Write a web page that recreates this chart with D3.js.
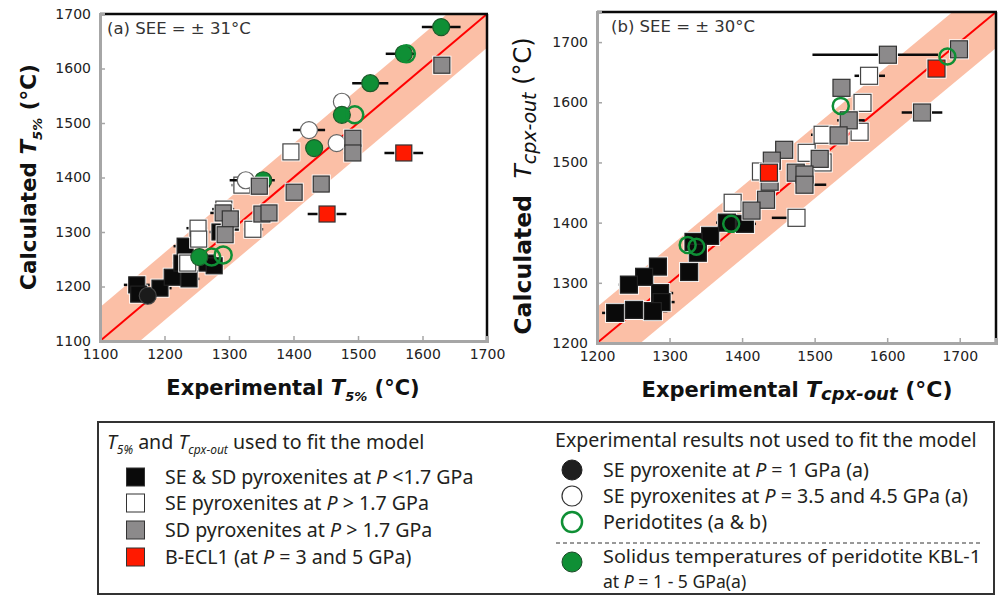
<!DOCTYPE html>
<html>
<head>
<meta charset="utf-8">
<script src="https://cdn.jsdelivr.net/npm/d3@7"></script>
<style>
  body { margin: 0; background: #fff; }
  svg { display: block; }
</style>
</head>
<body>
<svg id="chart" width="999" height="596"></svg>
<script>
// ---- Data: [experimental, calculated, errLow, errHigh] in °C ----
const ticksA = [1100, 1200, 1300, 1400, 1500, 1600, 1700];
const ticksB = [1200, 1300, 1400, 1500, 1600, 1700];
const seeA = 31, seeB = 30;

// Panel (a): T5%
const aBlack = [[1157,1203,20,20],[1160,1186,14,14],[1193,1197,18,18],[1212,1217,14,14],[1238,1214,16,16],
  [1232,1274,18,14],[1227,1243,14,14],[1266,1243,14,16],[1277,1238,14,14],[1286,1300,16,14],[1302,1318,14,14]];
const aWhite = [[1252,1307,18,14],[1253,1287,14,14],[1236,1243,14,14],[1292,1342,18,16],[1337,1305,14,16],
  [1320,1386,16,14],[1396,1447,0,0]];
const aGray = [[1630,1606,0,0],[1492,1472,14,14],[1492,1445,14,14],[1347,1384,14,16],[1401,1373,0,0],[1443,1388,0,0],
  [1291,1335,20,14],[1302,1324,14,14],[1351,1333,14,14],[1362,1335,14,14],[1294,1295,14,14]];
const aRed = [[1571,1445,30,30],[1452,1333,30,30]];
const aWhiteCircle = [[1326,1395,25,0],[1424,1487,25,25],[1467,1463,0,0],[1475,1539,0,0]];
const aBlackCircle = [[1174,1183,0,0]];
const aGreenOpen = [[1575,1627,0,0],[1495,1515,0,0],[1273,1254,0,0],[1291,1258,0,0]];
const aGreenFilled = [[1629,1676,30,30],[1571,1627,28,18],[1519,1573,28,28],[1475,1515,0,0],[1432,1454,0,0],
  [1353,1395,0,18],[1254,1254,0,0]];

// Panel (b): Tcpx-out
const bBlack = [[1404,1398,0,15],[1379,1400,15,0],[1356,1378,0,0],[1333,1368,0,0],[1339,1350,0,10],[1327,1318,0,12],
  [1284,1327,0,0],[1265,1310,0,0],[1244,1297,14,0],[1287,1283,0,18],[1289,1268,0,18],[1225,1250,18,0],
  [1251,1255,0,0],[1277,1253,0,20]];
const bWhite = [[1575,1644,20,22],[1566,1599,0,0],[1562,1551,0,0],[1511,1546,16,0],[1489,1516,0,0],[1511,1500,0,0],
  [1426,1485,0,0],[1387,1433,0,0],[1475,1408,34,0]];
const bGray = [[1601,1679,104,69],[1699,1688,0,0],[1537,1624,0,0],[1648,1583,28,28],[1547,1570,16,22],[1533,1545,0,0],
  [1458,1521,0,0],[1507,1506,0,0],[1441,1503,0,0],[1474,1483,0,0],[1486,1480,0,0],[1438,1468,0,0],
  [1486,1463,0,30],[1433,1438,0,0],[1413,1420,0,0]];
const bRed = [[1668,1656,0,0],[1437,1483,0,0]];
const bGreenOpen = [[1683,1676,0,0],[1536,1594,0,0],[1385,1398,0,0],[1325,1363,0,0],[1337,1360,0,0]];

// ---- Styling ----
const C = {
  band: "#fbbfa6", line: "#ff0000", axisGray: "#a6a6a6", black: "#0a0a0a", gray: "#8c8a8b",
  red: "#ff1a00", green: "#0f8f35", ink: "#231f20"
};
const axisFont = "'DejaVu Sans', sans-serif";
const legendFont = "'Noto Sans', 'Open Sans', sans-serif";

const svg = d3.select("#chart");

// Helper: text made of styled runs (italic / bold / subscript)
function richText(parent, x, y, runs, attrs) {
  const t = parent.append("text").attr("x", x).attr("y", y);
  Object.entries(attrs || {}).forEach(([k, v]) => t.attr(k, v));
  let shifted = 0;
  runs.forEach(r => {
    const s = t.append("tspan").text(r.t);
    const want = r.sub ? r.sub : 0;
    if (want !== shifted) { s.attr("dy", want - shifted); shifted = want; }
    if (r.i) s.attr("font-style", "italic");
    if (r.b !== undefined) s.attr("font-weight", r.b ? "bold" : "normal");
    if (r.size) s.attr("font-size", r.size);
  });
  return t;
}

function panel(cfg) {
  const x = d3.scaleLinear().domain(cfg.domain).range([cfg.left, cfg.right]);
  const y = d3.scaleLinear().domain(cfg.domain).range([cfg.bottom, cfg.top]);
  const g = svg.append("g");
  const clipId = "clip-" + cfg.id;
  g.append("clipPath").attr("id", clipId).append("rect")
    .attr("x", cfg.left).attr("y", cfg.top)
    .attr("width", cfg.right - cfg.left).attr("height", cfg.bottom - cfg.top);

  const plot = g.append("g").attr("clip-path", `url(#${clipId})`);
  const [d0, d1] = [cfg.domain[0] - 100, cfg.domain[1] + 100];
  const e = 2 * cfg.see;
  // ±2·SEE envelope around the 1:1 line
  plot.append("path")
    .attr("d", d3.line()([[x(d0), y(d0 + e)], [x(d1), y(d1 + e)], [x(d1), y(d1 - e)], [x(d0), y(d0 - e)]]) + "Z")
    .attr("fill", C.band);
  plot.append("line")
    .attr("x1", x(d0)).attr("y1", y(d0)).attr("x2", x(d1)).attr("y2", y(d1))
    .attr("stroke", C.line).attr("stroke-width", 2);

  // frame: black top/right, gray left/bottom
  g.append("line").attr("x1", cfg.left).attr("x2", cfg.right + 1).attr("y1", cfg.top).attr("y2", cfg.top)
    .attr("stroke", C.black).attr("stroke-width", 2.5);
  g.append("line").attr("x1", cfg.right).attr("x2", cfg.right).attr("y1", cfg.top).attr("y2", cfg.bottom)
    .attr("stroke", C.black).attr("stroke-width", 2.5);

  const xAxis = d3.axisBottom(x).tickValues(cfg.ticks).tickSize(-5).tickPadding(10).tickFormat(d3.format("d"));
  const yAxis = d3.axisLeft(y).tickValues(cfg.ticks).tickSize(-5).tickPadding(9).tickFormat(d3.format("d"));
  const gx = g.append("g").attr("transform", `translate(0,${cfg.bottom})`).call(xAxis);
  const gy = g.append("g").attr("transform", `translate(${cfg.left},0)`).call(yAxis);
  [gx, gy].forEach(a => {
    a.select(".domain").attr("stroke", C.axisGray).attr("stroke-width", 3);
    a.selectAll(".tick line").attr("stroke", C.axisGray).attr("stroke-width", 1.5);
    a.selectAll(".tick text").attr("font-family", axisFont).attr("font-size", 14).attr("fill", "#222");
  });
  gx.selectAll(".tick text").attr("dy", "0.55em");

  const pts = g.append("g").attr("clip-path", `url(#${clipId})`);
  const s = cfg.sq, r = cfg.r;

  function errorBars(data) {
    pts.append("g").selectAll("line").data(data.filter(d => d[2] || d[3])).join("line")
      .attr("x1", d => x(d[0] - d[2])).attr("x2", d => x(d[0] + d[3]))
      .attr("y1", d => y(d[1])).attr("y2", d => y(d[1]))
      .attr("stroke", C.black).attr("stroke-width", 2.5);
  }
  function squares(data, fill, stroke, halo) {
    errorBars(data);
    const gg = pts.append("g");
    gg.selectAll("rect.halo").data(data).join("rect").attr("class", "halo")
      .attr("x", d => x(d[0]) - s / 2 - 1).attr("y", d => y(d[1]) - s / 2 - 1)
      .attr("width", s + 2).attr("height", s + 2).attr("fill", halo);
    gg.selectAll("rect.m").data(data).join("rect").attr("class", "m")
      .attr("x", d => x(d[0]) - s / 2 + 0.5).attr("y", d => y(d[1]) - s / 2 + 0.5)
      .attr("width", s - 1).attr("height", s - 1)
      .attr("fill", fill).attr("stroke", stroke).attr("stroke-width", 1.2);
  }
  function circles(data, fill, stroke, sw) {
    errorBars(data);
    pts.append("g").selectAll("circle").data(data).join("circle")
      .attr("cx", d => x(d[0])).attr("cy", d => y(d[1])).attr("r", r)
      .attr("fill", fill).attr("stroke", stroke).attr("stroke-width", sw);
  }
  cfg.draw({ squares, circles });

  // panel tag
  g.append("text").attr("x", cfg.left + cfg.tagDx).attr("y", cfg.top + 20)
    .attr("font-family", axisFont).attr("font-size", 16.5).attr("fill", "#333")
    .text(cfg.tag);

  // axis titles
  richText(g, cfg.xTitleX, cfg.bottom + 54, cfg.xTitle,
    { "text-anchor": "middle", "font-family": axisFont, "font-size": 21, "font-weight": "bold", fill: "#111" });
  const yt = g.append("g").attr("transform", `translate(${cfg.yTitleX},${cfg.yTitleY}) rotate(-90)`);
  richText(yt, 0, 0, cfg.yTitle,
    { "text-anchor": "middle", "font-family": axisFont, "font-size": cfg.yTitleSize, "font-weight": "bold", fill: "#111" });
}

panel({
  id: "a", domain: [1100, 1700], ticks: ticksA, see: seeA,
  left: 100, right: 487, top: 14, bottom: 341, sq: 17, r: 8.5,
  tag: "(a)  SEE = \u00b1 31\u00b0C", tagDx: 7,
  xTitle: [{ t: "Experimental " }, { t: "T", i: true }, { t: "5%", i: true, sub: 6, size: 13 }, { t: " (\u00b0C)" }],
  xTitleX: 293,
  yTitle: [{ t: "Calculated " }, { t: "T", i: true }, { t: "5%", i: true, sub: 6, size: 13 }, { t: " (\u00b0C)" }],
  yTitleX: 36, yTitleY: 177, yTitleSize: 21.5,
  draw: ({ squares, circles }) => {
    squares(aBlack, C.black, "#222", "#fff");
    squares(aWhite, "#fff", "#444", "#fff");
    circles(aWhiteCircle, "#fff", "#666", 1.2);
    circles(aBlackCircle, "#1b1b1b", "#444", 1.2);
    circles(aGreenFilled, C.green, "#1d5a2a", 1.2);
    circles(aGreenOpen, "none", C.green, 2.5);
    squares(aGray, C.gray, "#333", "#fff");
    squares(aRed, C.red, "#333", "#fff");
  }
});

panel({
  id: "b", domain: [1200, 1750], ticks: ticksB, see: seeB,
  left: 597, right: 996, top: 12, bottom: 343, sq: 18, r: 8,
  tag: "(b) SEE = \u00b1 30\u00b0C", tagDx: 14,
  xTitle: [{ t: "Experimental " }, { t: "T", i: true, size: 22 }, { t: "cpx-out", i: true, sub: 3, size: 18 }, { t: " (\u00b0C)", sub: 0, size: 22 }],
  xTitleX: 797,
  yTitle: [{ t: "Calculated\u00a0\u00a0" }, { t: "T", i: true, b: false }, { t: "cpx-out", i: true, b: false, sub: 5, size: 19 }, { t: " (\u00b0C)", b: false, size: 24 }],
  yTitleX: 531, yTitleY: 186, yTitleSize: 23.5,
  draw: ({ squares, circles }) => {
    squares(bBlack, C.black, "#222", "#fff");
    squares(bWhite, "#fff", "#444", "#fff");
    squares(bGray, C.gray, "#333", "#fff");
    squares(bRed, C.red, "#333", "#fff");
    circles(bGreenOpen, "none", C.green, 2.5);
  }
});

// ---- Legend ----
const legendLeft = [
  { fill: C.black, text: [{ t: "SE & SD pyroxenites at " }, { t: "P", i: true }, { t: " <1.7 GPa" }] },
  { fill: "#fff", text: [{ t: "SE pyroxenites at " }, { t: "P", i: true }, { t: " > 1.7 GPa" }] },
  { fill: C.gray, text: [{ t: "SD pyroxenites at " }, { t: "P", i: true }, { t: " > 1.7 GPa" }] },
  { fill: C.red, text: [{ t: "B-ECL1 (at " }, { t: "P", i: true }, { t: " = 3 and 5 GPa)" }] }
];
const legendRight = [
  { fill: "#1f1f1f", stroke: "#1f1f1f", sw: 1, text: [{ t: "SE pyroxenite at " }, { t: "P", i: true }, { t: " = 1 GPa (a)" }] },
  { fill: "#fff", stroke: "#333", sw: 1.2, text: [{ t: "SE pyroxenites at " }, { t: "P", i: true }, { t: " = 3.5 and 4.5 GPa (a)" }] },
  { fill: "#fff", stroke: C.green, sw: 2.5, text: [{ t: "Peridotites (a & b)" }] }
];
const legendSolidus = { fill: C.green, stroke: "#1d4a28", sw: 1,
  line1: [{ t: "Solidus temperatures of peridotite KBL-1" }],
  line2: [{ t: "at " }, { t: "P", i: true }, { t: " = 1 - 5 GPa(a)" }] };

const LFS = 19.6;
const lg = svg.append("g").attr("font-family", legendFont).attr("fill", C.ink);
lg.append("rect").attr("x", 98).attr("y", 422).attr("width", 896).attr("height", 172)
  .attr("fill", "#fff").attr("stroke", "#333").attr("stroke-width", 2);

richText(lg, 107, 449, [{ t: "T", i: true }, { t: "5%", i: true, sub: 5, size: 12 }, { t: " and ", sub: 0 },
  { t: "T", i: true }, { t: "cpx-out", i: true, sub: 5, size: 12 }, { t: " used to fit the model", sub: 0 }],
  { "font-size": LFS });

const lyL = [477, 503, 530, 557];
legendLeft.forEach((d, i) => {
  lg.append("rect").attr("x", 126.5).attr("y", lyL[i] - 9).attr("width", 18).attr("height", 18)
    .attr("fill", d.fill).attr("stroke", "#333").attr("stroke-width", 1);
  richText(lg, 165, lyL[i] + 7, d.text, { "font-size": LFS });
});

lg.append("text").attr("x", 555).attr("y", 447).attr("font-size", LFS).text("Experimental results not used to fit the model");
const lyR = [470, 496, 522];
legendRight.forEach((d, i) => {
  lg.append("circle").attr("cx", 572).attr("cy", lyR[i]).attr("r", 10)
    .attr("fill", d.fill).attr("stroke", d.stroke).attr("stroke-width", d.sw);
  richText(lg, 603, lyR[i] + 7, d.text, { "font-size": LFS });
});
lg.append("line").attr("x1", 556).attr("x2", 982).attr("y1", 543).attr("y2", 543)
  .attr("stroke", "#333").attr("stroke-width", 1).attr("stroke-dasharray", "4,3");

// two-line solidus entry: slightly tighter type, stretched to the column width
lg.append("circle").attr("cx", 572).attr("cy", 562).attr("r", 10)
  .attr("fill", legendSolidus.fill).attr("stroke", legendSolidus.stroke).attr("stroke-width", legendSolidus.sw);
richText(lg, 603, 563, legendSolidus.line1, { "font-size": 17.6, textLength: 378, lengthAdjust: "spacingAndGlyphs" });
richText(lg, 603, 588, legendSolidus.line2, { "font-size": 17.6 });
</script>
</body>
</html>
